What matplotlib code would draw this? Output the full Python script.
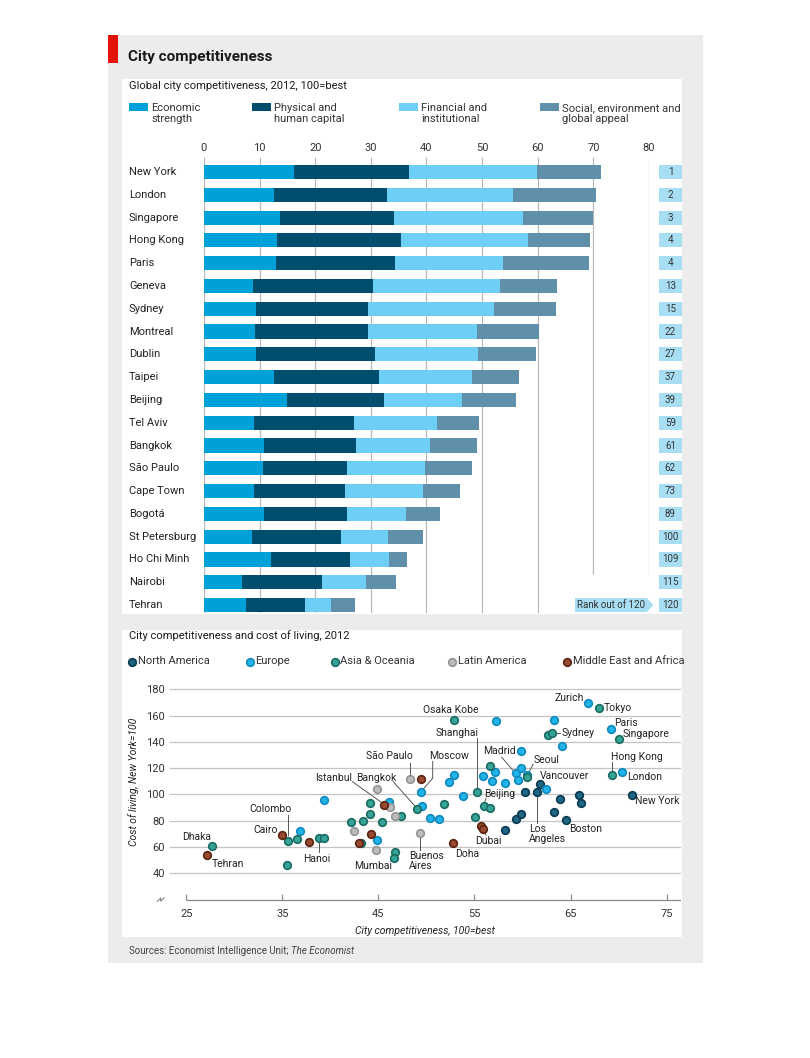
import matplotlib
matplotlib.use("Agg")
import matplotlib.pyplot as plt
from matplotlib.patches import Rectangle, Polygon

plt.rcParams['font.family'] = ['Liberation Sans Narrow', 'Roboto', 'DejaVu Sans']

# ---- bar chart data ----
cities = ["New York", "London", "Singapore", "Hong Kong", "Paris", "Geneva", "Sydney",
          "Montreal", "Dublin", "Taipei", "Beijing", "Tel Aviv", "Bangkok", "São Paulo",
          "Cape Town", "Bogotá", "St Petersburg", "Ho Chi Minh", "Nairobi", "Tehran"]
econ = [16.1, 12.5, 13.7, 13.1, 13.0, 8.8, 9.3, 9.2, 9.3, 12.5, 14.9, 8.9, 10.7, 10.6,
        9.0, 10.7, 8.7, 12.1, 6.9, 7.6]
physical = [20.7, 20.4, 20.5, 22.3, 21.4, 21.6, 20.2, 20.2, 21.4, 19.0, 17.4, 18.1, 16.7,
            15.1, 16.3, 15.0, 15.9, 14.2, 14.3, 10.5]
financial = [23.0, 22.6, 23.2, 22.9, 19.3, 22.8, 22.6, 19.7, 18.5, 16.7, 14.1, 14.8, 13.2,
             14.1, 14.0, 10.7, 8.5, 6.9, 8.0, 4.8]
social = [11.6, 15.0, 12.6, 11.1, 15.6, 10.2, 11.1, 11.2, 10.4, 8.4, 9.7, 7.6, 8.4, 8.4,
          6.7, 6.0, 6.3, 3.3, 5.4, 4.3]
ranks = [1, 2, 3, 4, 4, 13, 15, 22, 27, 37, 39, 59, 61, 62, 73, 89, 100, 109, 115, 120]
bar_ticks = [0, 10, 20, 30, 40, 50, 60, 70, 80]

# ---- scatter data (competitiveness, cost of living) ----
na_x = [58.2, 59.3, 59.8, 60.3, 61.5, 61.8, 63.9, 63.3, 64.5, 65.9, 66.1, 71.4]
na_y = [72.9, 81.0, 84.9, 101.8, 101.8, 107.7, 96.3, 86.9, 80.5, 99.8, 93.7, 99.8]
eu_x = [36.8, 39.3, 44.9, 46.1, 49.4, 49.5, 50.4, 51.3, 52.3, 52.9, 53.8, 57.2, 55.9,
        57.1, 56.8, 58.2, 59.8, 59.3, 59.8, 59.5, 60.5, 62.4, 63.3, 64.1, 66.8, 69.2, 70.4]
eu_y = [72.0, 96.0, 65.0, 94.2, 101.8, 91.2, 82.3, 81.0, 109.7, 114.8, 98.8, 155.6, 113.8,
        117.3, 110.0, 108.9, 133.0, 116.1, 119.9, 111.0, 115.0, 103.9, 156.6, 136.9, 169.8,
        150.0, 117.0]
as_x = [27.7, 35.6, 36.5, 38.8, 39.3, 35.5, 42.1, 43.4, 44.1, 44.1, 45.4, 43.2, 47.4, 46.7,
        46.6, 49.0, 51.8, 52.9, 55.3, 55.1, 56.6, 56.0, 56.6, 60.5, 62.6, 63.1, 68.0, 70.0, 69.3]
as_y = [61.0, 64.8, 65.9, 66.8, 66.8, 46.0, 78.8, 80.0, 93.7, 84.9, 78.8, 62.8, 83.8, 56.0,
        52.0, 89.0, 93.0, 156.6, 101.8, 82.8, 121.6, 91.2, 89.9, 113.0, 145.0, 147.0, 166.0,
        142.0, 114.8]
la_x = [42.5, 44.9, 44.8, 46.2, 46.7, 48.3, 49.3]
la_y = [72.2, 104.0, 58.0, 90.7, 83.8, 111.8, 70.9]
me_x = [27.2, 35.0, 37.8, 43.0, 44.2, 45.6, 49.4, 52.8, 55.7, 55.9]
me_y = [53.9, 68.9, 63.8, 62.8, 69.9, 92.0, 111.7, 62.8, 76.2, 73.7]

W, H = 810, 1058
fig = plt.figure(figsize=(W / 100, H / 100), dpi=100)
fig.patch.set_facecolor("white")

# decoration layer in pixel coordinates
deco = fig.add_axes([0, 0, 1, 1])
deco.set_xlim(0, W)
deco.set_ylim(H, 0)
deco.axis("off")
deco.add_patch(Rectangle((108, 35), 595, 928, color="#ececec", lw=0))
deco.add_patch(Rectangle((108, 35), 10, 28, color="#e3120b", lw=0))
deco.add_patch(Rectangle((122, 79), 560, 535, color="white", lw=0))
deco.add_patch(Rectangle((122, 630), 560, 307, color="white", lw=0))
deco.text(128, 57, "City competitiveness", fontsize=11, fontweight="bold",
          color="#1a1a1a", va="center")
deco.text(129, 86, "Global city competitiveness, 2012, 100=best", fontsize=8,
          color="#1a1a1a", va="center")

c_econ, c_phys, c_fin, c_soc = "#00a1d9", "#004e6d", "#6dcff6", "#5f8fa9"
rank_col = "#a8def4"
legend_items = [("Economic\nstrength", c_econ, 129), ("Physical and\nhuman capital", c_phys, 252),
                ("Financial and\ninstitutional", c_fin, 399),
                ("Social, environment and\nglobal appeal", c_soc, 540)]
for lab, col, x0 in legend_items:
    deco.add_patch(Rectangle((x0, 103), 19, 8, color=col, lw=0))
    deco.text(x0 + 22, 113.5, lab, fontsize=8, color="#333333", va="center",
              linespacing=1.1)

# ---- bar chart ----
ax = fig.add_axes([204 / W, 1 - 613 / H, 445 / W, 456 / H])
ax.set_facecolor("none")
ax.set_zorder(2)
rows = list(range(len(cities)))
left = [0.0] * len(cities)
for vals, col in [(econ, c_econ), (physical, c_phys), (financial, c_fin), (social, c_soc)]:
    ax.barh(rows, vals, left=left, height=0.62, color=col, lw=0, zorder=3)
    left = [l + v for l, v in zip(left, vals)]
ax.set_xlim(0, 80)
ax.set_ylim(19.35, -0.66)
for t in bar_ticks:
    ymax = 17.65 if t >= 70 else 19.35
    ax.vlines(t, -0.66, ymax, color="#b8b8b8", lw=0.9, zorder=1)
ax.xaxis.tick_top()
ax.set_xticks(bar_ticks)
ax.tick_params(axis="x", length=0, pad=3, labelsize=8, labelcolor="#333333")
ax.set_yticks([])
for s in ax.spines.values():
    s.set_visible(False)
for i, (c, r) in enumerate(zip(cities, ranks)):
    ax.text(-13.5, i, c, fontsize=8, color="#222222", va="center", ha="left")
    ax.barh(i, 4.1, left=81.8, height=0.62, color=rank_col, lw=0, clip_on=False)
    ax.text(83.85, i, str(r), fontsize=7, color="#333333", va="center", ha="center")
ty = len(cities) - 1
ax.add_patch(Polygon([(66.7, ty - 0.31), (79.6, ty - 0.31), (80.8, ty), (79.6, ty + 0.31),
                      (66.7, ty + 0.31)], closed=True, color=rank_col, lw=0, clip_on=False))
ax.text(73.1, ty, "Rank out of 120", fontsize=7, color="#333333", va="center", ha="center")

# ---- scatter ----
deco.text(129, 636, "City competitiveness and cost of living, 2012", fontsize=8,
          color="#1a1a1a", va="center")
regions = [("North America", na_x, na_y, "#1f6685", "#0a3a50", 132),
           ("Europe", eu_x, eu_y, "#1fb5ea", "#1289bd", 249.5),
           ("Asia & Oceania", as_x, as_y, "#35a497", "#1b6b62", 334.5),
           ("Latin America", la_x, la_y, "#bcbcbc", "#959595", 451.5),
           ("Middle East and Africa", me_x, me_y, "#9a4a30", "#5a2412", 567)]
for name, xs, ys, fc, ec, lx in regions:
    deco.scatter([lx], [661.5], s=30, color=fc, edgecolors=ec, linewidths=1.2)
    deco.text(lx + 6, 661.5, name, fontsize=8, color="#333333", va="center")

sx = fig.add_axes([169.3 / W, 1 - 902.2 / H, 511.7 / W, 220.8 / H])
sx.set_facecolor("none")
sx.set_zorder(2)
sx.set_xlim(23.24, 76.49)
sx.set_ylim(18, 186)
for v in range(40, 181, 20):
    sx.hlines(v, 23.24, 76.49, color="#c4c4c4", lw=0.9, zorder=0)
sx.hlines(20, 25, 76.49, color="#8a8a8a", lw=0.9, zorder=0)
for v in range(25, 76, 10):
    sx.vlines(v, 20, 24.6, color="#8a8a8a", lw=0.9)
sx.plot([22.0, 22.35, 22.35, 22.7], [18.6, 21.3, 18.7, 21.4], color="#777777", lw=0.7,
        clip_on=False)
sx.set_yticks(range(40, 181, 20))
sx.set_xticks(range(25, 76, 10))
sx.tick_params(axis="both", length=0, labelsize=8, labelcolor="#333333")
sx.tick_params(axis="y", pad=3)
sx.tick_params(axis="x", pad=5)
for s in sx.spines.values():
    s.set_visible(False)

line_kw = dict(color="#555555", lw=0.7, zorder=2)
leaders = [([35.6, 35.6], [84, 69]), ([38.8, 38.8], [56, 63.5]),
           ([42.3, 45.6], [109.7, 92.5]), ([46.55, 49.0], [109.7, 89.5]),
           ([48.3, 48.3], [124, 115]), ([50.65, 50.65, 49.6], [125, 112.3, 103.5]),
           ([49.3, 49.3], [67.5, 57.5]), ([55.26, 55.26], [142.7, 104.5]),
           ([57.83, 59.1], [128.3, 117.5]), ([61.1, 60.6], [122.9, 116]),
           ([61.5, 61.5], [99, 78]), ([69.3, 69.3], [124.9, 117.3]),
           ([63.4, 63.95], [147, 147]), ([56.2, 56.0], [97, 92.7]),
           ([56.2, 55.9], [69.1, 72.9])]
for lx_, ly_ in leaders:
    sx.plot(lx_, ly_, **line_kw)

for name, xs, ys, fc, ec, lx in regions:
    sx.scatter(xs, ys, s=30, color=fc, edgecolors=ec, linewidths=1.2, zorder=3)

labels = [("Dhaka", 26.1, 67.8, "center"), ("Tehran", 29.3, 47, "center"),
          ("Colombo", 33.8, 89.1, "center"), ("Cairo", 33.3, 73.2, "center"),
          ("Hanoi", 38.6, 50.6, "center"), ("Istanbul", 40.3, 112.7, "center"),
          ("Bangkok", 44.8, 112.7, "center"), ("Mumbai", 44.4, 45.8, "center"),
          ("São Paulo", 46.2, 129.2, "center"), ("Moscow", 52.3, 129.2, "center"),
          ("Buenos\nAires", 48.2, 49.6, "left"), ("Doha", 54.25, 54.7, "center"),
          ("Dubai", 56.4, 64.3, "center"), ("Osaka Kobe", 52.55, 164.2, "center"),
          ("Shanghai", 53.15, 146.5, "center"), ("Beijing", 57.65, 100.3, "center"),
          ("Madrid", 57.55, 133, "center"), ("Seoul", 62.5, 126.2, "center"),
          ("Vancouver", 64.35, 114, "center"), ("Los\nAngeles", 60.7, 70, "left"),
          ("Boston", 66.6, 73.7, "center"), ("New York", 74.0, 95.2, "center"),
          ("London", 72.7, 113.3, "center"), ("Hong Kong", 71.9, 128.7, "center"),
          ("Paris", 70.8, 154.6, "center"), ("Singapore", 72.9, 145.8, "center"),
          ("Sydney", 65.8, 147, "center"), ("Zurich", 64.9, 173.6, "center"),
          ("Tokyo", 69.9, 166, "center")]
for name, x, y, ha in labels:
    sx.text(x, y, name, fontsize=7.5, color="#222222", ha=ha, va="center",
            linespacing=1.0, zorder=4)

deco.text(425, 931, "City competitiveness, 100=best", fontsize=7.5, style="italic",
          color="#222222", ha="center", va="center")
deco.text(134, 781.7, "Cost of living, New York=100", fontsize=7.5, style="italic",
          color="#222222", ha="center", va="center", rotation=90)
src = deco.text(129, 951, "Sources: Economist Intelligence Unit; ", fontsize=7,
                color="#444444", va="center")
fig.canvas.draw()
bb = src.get_window_extent()
deco.text(129 + bb.width, 951, "The Economist", fontsize=7, style="italic",
          color="#444444", va="center")

fig.savefig("out.png", dpi=100, facecolor="white")
